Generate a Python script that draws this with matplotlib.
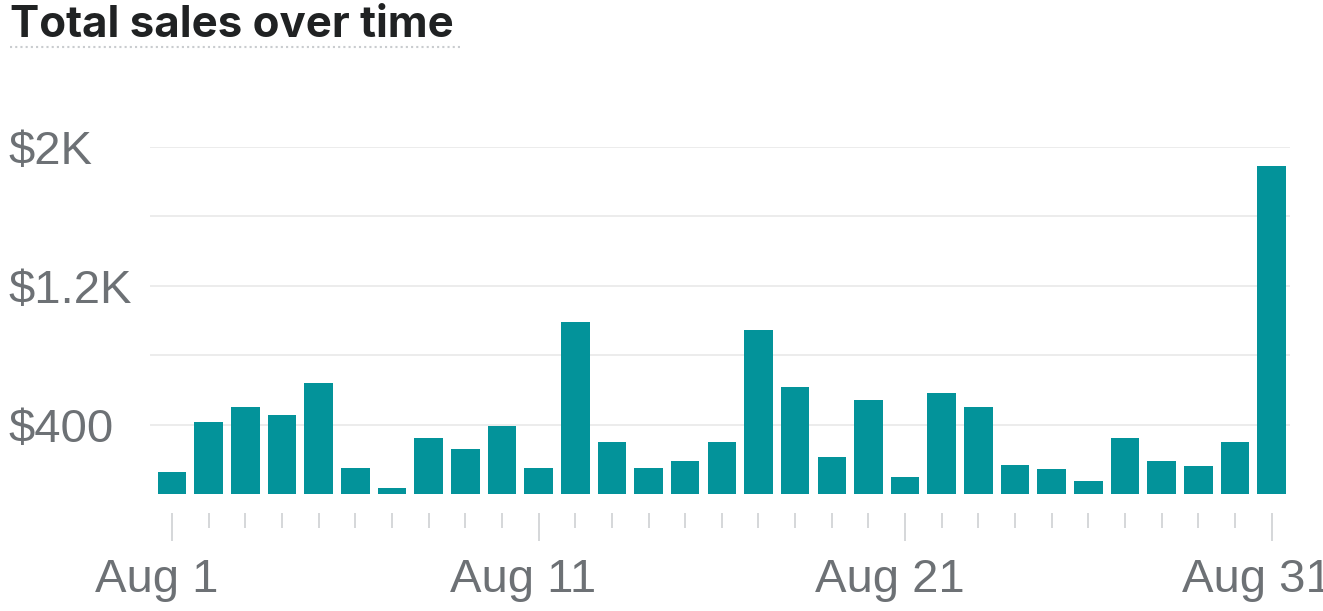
import matplotlib
matplotlib.use("Agg")
import matplotlib.pyplot as plt
from matplotlib.lines import Line2D
from matplotlib.ticker import FixedLocator
from matplotlib.transforms import ScaledTranslation

days = list(range(1, 32))
sales = [127, 414, 501, 455, 639, 150, 35, 324, 259, 391,
         150, 992, 301, 150, 192, 301, 948, 614, 215, 543,
         96, 585, 501, 167, 144, 77, 322, 188, 163, 297, 1888]
x_major = [1, 11, 21, 31]
x_major_labels = ["Aug 1", "Aug 11", "Aug 21", "Aug 31"]
y_grid = [400, 800, 1200, 1600, 2000]
y_labels = ["\\$400", "", "\\$1.2K", "", "\\$2K"]

W, H = 1323, 611
fig = plt.figure(figsize=(W / 100, H / 100), dpi=100)
plt.rcParams['font.family'] = ['Liberation Sans', 'DejaVu Sans']

left, right, top, bottom = 150, 1290, 147, 494
ax = fig.add_axes([left / W, (H - bottom) / H, (right - left) / W, (bottom - top) / H])

ax.bar(days, sales, width=0.78, color='#03939a', zorder=3)
ax.set_xlim(0.4, 31.5)
ax.set_ylim(0, 2000)

for s in ['top', 'right', 'left']:
    ax.spines[s].set_visible(False)
ax.spines['bottom'].set_position(('outward', 14))
ax.spines['bottom'].set_visible(False)

ax.yaxis.set_major_locator(FixedLocator(y_grid))
ax.set_yticklabels(y_labels)
ax.grid(axis='y', color='#ebebeb', linewidth=1.3, zorder=0)
ax.tick_params(axis='y', length=0, pad=102, labelsize=34, labelcolor='#6d7175')
for lab in ax.get_yticklabels():
    lab.set_horizontalalignment('left')

ax.xaxis.set_major_locator(FixedLocator(x_major))
ax.set_xticklabels(x_major_labels)
ax.xaxis.set_minor_locator(FixedLocator([d for d in days if d not in x_major]))
ax.tick_params(axis='x', which='major', length=20, width=1.4, color='#d5d7d9',
               labelsize=34, labelcolor='#6d7175', pad=12)
ax.tick_params(axis='x', which='minor', length=11, width=1.4, color='#d5d7d9')
shift = ScaledTranslation(-15 / 100, 0, fig.dpi_scale_trans)
for lab in ax.get_xticklabels():
    lab.set_transform(lab.get_transform() + shift)

fig.text(10 / W, 1 - 5 / H, "Total sales over time", ha='left', va='top',
         fontsize=31.5, fontweight='bold', color='#202223',
         family=['Inter', 'DejaVu Sans'])
fig.add_artist(Line2D([10 / W, 460 / W], [1 - 47 / H, 1 - 47 / H],
                      transform=fig.transFigure, color='#c9cccf',
                      linewidth=1.5, linestyle=(0, (1, 1.5))))

fig.savefig("out.png", dpi=100)
